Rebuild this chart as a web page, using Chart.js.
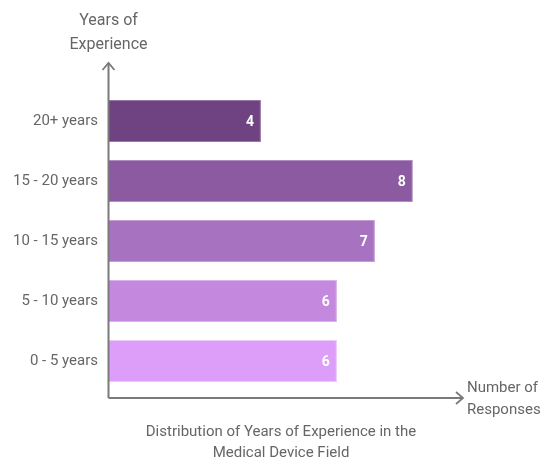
<!DOCTYPE html>
<html>
<head>
<meta charset="utf-8">
<script src="https://cdn.jsdelivr.net/npm/chart.js@4"></script>
<style>
  html, body { margin: 0; padding: 0; background: #fff; }
  #wrap { width: 543px; height: 460px; position: relative; }
</style>
</head>
<body>
<div id="wrap"><canvas id="chart" width="543" height="460"></canvas></div>
<script>
const categories = ['20+ years', '15 - 20 years', '10 - 15 years', '5 - 10 years', '0 - 5 years'];
const responses = [4, 8, 7, 6, 6];
const barColors = ['#6f4382', '#8c5aa0', '#a773c1', '#c489de', '#dc9ef8'];
const borderColors = ['#9a78a8', '#b08cc0', '#c39fd6', '#d8b2ea', '#ecc8fb'];
const yTitle = ['Years of', 'Experience'];
const xTitle = ['Number of', 'Responses'];
const chartTitle = ['Distribution of Years of Experience in the', 'Medical Device Field'];

const FONT = 'Roboto, "Liberation Sans", sans-serif';
const AXIS = '#7a7a7a';
const TEXT = '#666666';

// axes with arrows, titles and value labels
const decorPlugin = {
  id: 'decor',
  afterDatasetsDraw(chart) {
    const ctx = chart.ctx;
    const area = chart.chartArea;
    const x0 = area.left - 0.5;
    const yBase = area.bottom + 7;
    const yTop = 63;
    const xEnd = area.right;

    ctx.save();
    ctx.strokeStyle = AXIS;
    ctx.lineWidth = 2;
    ctx.beginPath();
    ctx.moveTo(x0, yBase);
    ctx.lineTo(x0, yTop);
    ctx.moveTo(x0, yBase);
    ctx.lineTo(xEnd, yBase);
    ctx.stroke();
    // arrow heads
    ctx.lineWidth = 1.8;
    ctx.beginPath();
    ctx.moveTo(x0 - 6, yTop + 7);
    ctx.lineTo(x0, yTop);
    ctx.lineTo(x0 + 6, yTop + 7);
    ctx.moveTo(xEnd - 7, yBase - 6);
    ctx.lineTo(xEnd, yBase);
    ctx.lineTo(xEnd - 7, yBase + 6);
    ctx.stroke();

    // value labels inside bars
    const meta = chart.getDatasetMeta(0);
    ctx.fillStyle = '#ffffff';
    ctx.font = 'bold 14px ' + FONT;
    ctx.textAlign = 'right';
    ctx.textBaseline = 'middle';
    meta.data.forEach((bar, i) => {
      ctx.fillText(String(responses[i]), bar.x - 7, bar.y + 1);
    });

    // titles
    ctx.fillStyle = TEXT;
    ctx.font = '16px ' + FONT;
    ctx.textAlign = 'center';
    ctx.fillText(yTitle[0], x0, 21);
    ctx.fillText(yTitle[1], x0, 45);
    ctx.font = '15px ' + FONT;
    ctx.textAlign = 'left';
    ctx.fillText(xTitle[0], xEnd + 4, 388);
    ctx.fillText(xTitle[1], xEnd + 4, 410);
    ctx.textAlign = 'center';
    ctx.fillText(chartTitle[0], 281, 432);
    ctx.fillText(chartTitle[1], 281, 453);
    ctx.restore();
  }
};

new Chart(document.getElementById('chart'), {
  type: 'bar',
  data: {
    labels: categories,
    datasets: [{
      data: responses,
      backgroundColor: barColors,
      borderColor: borderColors,
      borderWidth: 1,
      borderSkipped: 'left',
      barPercentage: 0.7,
      categoryPercentage: 1
    }]
  },
  options: {
    indexAxis: 'y',
    responsive: false,
    animation: false,
    layout: { padding: { left: 0, top: 91, right: 80, bottom: 69 } },
    plugins: {
      legend: { display: false },
      tooltip: { enabled: false }
    },
    scales: {
      x: {
        display: false,
        min: 0,
        max: 9.32
      },
      y: {
        grid: { display: false },
        border: { display: false },
        afterFit: (scale) => { scale.width = 109; },
        ticks: {
          color: TEXT,
          padding: 3,
          font: { family: FONT, size: 15 }
        }
      }
    }
  },
  plugins: [decorPlugin]
});
</script>
</body>
</html>
